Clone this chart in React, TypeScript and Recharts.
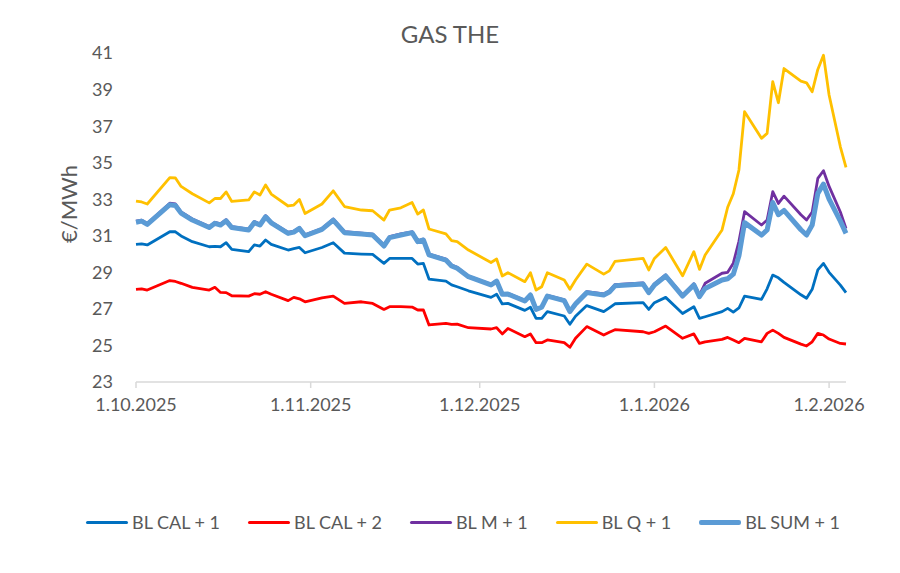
import { LineChart, Line, XAxis, YAxis } from "recharts";

// trading dates (only the dates where the curves turn are kept)
const dates = [
  "2025-10-01", "2025-10-02", "2025-10-03", "2025-10-07", "2025-10-08", "2025-10-09", "2025-10-11",
  "2025-10-14", "2025-10-15", "2025-10-16", "2025-10-17", "2025-10-18", "2025-10-21", "2025-10-22",
  "2025-10-23", "2025-10-24", "2025-10-25", "2025-10-28", "2025-10-29", "2025-10-30", "2025-10-31",
  "2025-11-03", "2025-11-05", "2025-11-07", "2025-11-10", "2025-11-12", "2025-11-14", "2025-11-15",
  "2025-11-17", "2025-11-19", "2025-11-20", "2025-11-21", "2025-11-22", "2025-11-25", "2025-11-26",
  "2025-11-27", "2025-11-29",
  "2025-12-03", "2025-12-04", "2025-12-05", "2025-12-06", "2025-12-09", "2025-12-10", "2025-12-11",
  "2025-12-12", "2025-12-13", "2025-12-16", "2025-12-17", "2025-12-18", "2025-12-20", "2025-12-23",
  "2025-12-24", "2025-12-25", "2025-12-30", "2025-12-31",
  "2026-01-01", "2026-01-03", "2026-01-06", "2026-01-08", "2026-01-09", "2026-01-10", "2026-01-13",
  "2026-01-14", "2026-01-15", "2026-01-16", "2026-01-17", "2026-01-20", "2026-01-21", "2026-01-22",
  "2026-01-23", "2026-01-24", "2026-01-27", "2026-01-28", "2026-01-29", "2026-01-30", "2026-01-31",
  "2026-02-01", "2026-02-03", "2026-02-04",
];

const blCal1 = [
  30.53, 30.56, 30.5, 31.22, 31.22, 30.99, 30.68, 30.4, 30.42, 30.4, 30.62, 30.26, 30.13, 30.5, 30.44, 30.77, 30.53, 30.22, 30.3, 30.36, 30.07,
  30.36, 30.62, 30.05, 30.0, 29.98, 29.49, 29.76, 29.76, 29.76, 29.45, 29.49, 28.63, 28.52, 28.31, 28.21, 27.99,
  27.63, 27.8, 27.27, 27.3, 26.92, 27.09, 26.48, 26.48, 26.85, 26.61, 26.16, 26.6, 27.18, 26.85, 27.06, 27.28, 27.34, 26.97,
  27.34, 27.63, 26.75, 27.12, 26.48, 26.57, 26.85, 27.03, 26.82, 27.05, 27.7, 27.52, 28.1, 28.85, 28.7, 28.45, 27.77, 27.58, 28.07, 29.13, 29.49,
  29.0, 28.3, 27.89,
];

const blCal2 = [
  28.07, 28.1, 28.03, 28.55, 28.5, 28.4, 28.18, 28.03, 28.18, 27.9, 27.89, 27.72, 27.7, 27.83, 27.8, 27.94, 27.8, 27.45, 27.63, 27.55, 27.39,
  27.6, 27.7, 27.3, 27.39, 27.3, 26.97, 27.12, 27.12, 27.1, 26.94, 26.94, 26.12, 26.21, 26.15, 26.17, 25.97,
  25.9, 25.97, 25.63, 25.93, 25.48, 25.63, 25.15, 25.15, 25.3, 25.15, 24.9, 25.39, 26.03, 25.57, 25.72, 25.86, 25.75, 25.66,
  25.75, 26.06, 25.39, 25.63, 25.11, 25.2, 25.33, 25.44, 25.3, 25.15, 25.39, 25.2, 25.66, 25.84, 25.66, 25.44, 25.07, 24.97, 25.2, 25.66, 25.57,
  25.35, 25.11, 25.08,
];

const blM1 = [
  31.8, 31.85, 31.67, 32.78, 32.74, 32.3, 31.92, 31.5, 31.74, 31.65, 31.88, 31.5, 31.37, 31.78, 31.64, 32.1, 31.76, 31.18, 31.25, 31.45, 31.05,
  31.4, 31.92, 31.22, 31.15, 31.09, 30.5, 30.95, 31.1, 31.22, 30.72, 30.82, 30.0, 29.72, 29.4, 29.27, 28.8,
  28.35, 28.56, 27.84, 27.85, 27.47, 27.8, 27.0, 27.12, 27.74, 27.5, 26.9, 27.32, 27.94, 27.82, 27.98, 28.32, 28.42, 27.95,
  28.37, 28.86, 27.76, 28.38, 27.75, 28.4, 28.95, 29.0, 29.5, 30.7, 32.32, 31.59, 31.86, 33.41, 32.77, 33.17, 32.15, 31.86, 32.3, 34.14, 34.56,
  33.7, 32.3, 31.4,
];

const blQ1 = [
  32.9, 32.85, 32.74, 34.18, 34.16, 33.7, 33.3, 32.8, 33.04, 33.04, 33.4, 32.88, 32.96, 33.4, 33.23, 33.78, 33.28, 32.63, 32.68, 32.99, 32.22,
  32.74, 33.46, 32.6, 32.41, 32.37, 31.86, 32.41, 32.53, 32.82, 32.19, 32.41, 31.37, 31.1, 30.73, 30.68, 30.22,
  29.54, 29.73, 28.8, 28.98, 28.49, 28.98, 28.03, 28.21, 28.98, 28.58, 28.07, 28.58, 29.45, 28.9, 29.08, 29.6, 29.76, 29.13,
  29.76, 30.36, 28.81, 30.13, 29.16, 29.95, 31.32, 32.56, 33.3, 34.6, 37.79, 36.33, 36.6, 39.43, 38.28, 40.15, 39.46, 39.37, 38.88, 40.1, 40.88,
  38.7, 35.87, 34.74,
];

const blSum1 = [
  31.74, 31.8, 31.62, 32.7, 32.66, 32.24, 31.86, 31.45, 31.68, 31.59, 31.82, 31.45, 31.32, 31.72, 31.59, 32.04, 31.71, 31.13, 31.2, 31.4, 31.0,
  31.35, 31.86, 31.17, 31.1, 31.04, 30.44, 30.9, 31.04, 31.17, 30.68, 30.77, 29.95, 29.67, 29.35, 29.22, 28.76,
  28.31, 28.52, 27.8, 27.81, 27.43, 27.76, 26.97, 27.09, 27.7, 27.45, 26.85, 27.27, 27.89, 27.76, 27.92, 28.26, 28.36, 27.89,
  28.31, 28.8, 27.7, 28.31, 27.67, 28.12, 28.58, 28.65, 28.9, 29.9, 31.72, 31.04, 31.32, 32.82, 32.15, 32.39, 31.33, 31.04, 31.59, 33.32, 33.83,
  33.0, 31.8, 31.13,
];

const monthTicks = ["2025-10-01", "2025-11-01", "2025-12-01", "2026-01-01", "2026-02-01"];
const yTicks = [23, 25, 27, 29, 31, 33, 35, 37, 39, 41];

const DAY = 86400000;
const START = Date.parse(dates[0]);
const toDay = (iso: string) => Math.round((Date.parse(iso) - START) / DAY);
const fmtDay = (d: number) => {
  const dt = new Date(START + d * DAY);
  return `${dt.getUTCDate()}.${dt.getUTCMonth() + 1}.${dt.getUTCFullYear()}`;
};

const series = [
  { key: "cal1", name: "BL CAL + 1", color: "#0070C0", width: 2.8, values: blCal1 },
  { key: "cal2", name: "BL CAL + 2", color: "#FF0000", width: 2.8, values: blCal2 },
  { key: "m1", name: "BL M + 1", color: "#7030A0", width: 2.8, values: blM1 },
  { key: "q1", name: "BL Q + 1", color: "#FFC000", width: 2.8, values: blQ1 },
  { key: "sum1", name: "BL SUM + 1", color: "#5B9BD5", width: 5, values: blSum1 },
];

const data = dates.map((d, i) => {
  const row: Record<string, number> = { day: toDay(d) };
  for (const s of series) row[s.key] = s.values[i];
  return row;
});

const FONT = "Lato, 'Noto Sans', sans-serif";
const GREY = "#595959";

function ChartLegend() {
  return (
    <div
      style={{
        position: "absolute", top: 511, left: 0, width: 900, display: "flex", justifyContent: "center",
        gap: 28, paddingLeft: 26, boxSizing: "border-box", fontFamily: FONT, fontSize: 18, color: GREY,
      }}
    >
      {series.map((s) => (
        <div key={s.key} style={{ display: "flex", alignItems: "center", gap: 4 }}>
          <div style={{ width: 42, height: s.width > 3 ? 5 : 3, background: s.color, borderRadius: 2 }} />
          <span>{s.name}</span>
        </div>
      ))}
    </div>
  );
}

export default function App() {
  return (
    <div style={{ position: "relative", width: 900, height: 573, background: "#fff" }}>
      <style>{"body{margin:0}"}</style>
      <div style={{ position: "absolute", top: 19, left: 0, width: 900, textAlign: "center", fontFamily: FONT, fontSize: 24, color: GREY }}>
        GAS THE
      </div>
      <div
        style={{
          position: "absolute", left: 68, top: 204, transform: "translate(-50%, -50%) rotate(-90deg)",
          fontFamily: FONT, fontSize: 22, color: GREY, whiteSpace: "nowrap",
        }}
      >
        €/MWh
      </div>
      <LineChart width={900} height={573} data={data} margin={{ top: 53, right: 54, left: 0, bottom: 151 }}>
        <XAxis
          dataKey="day"
          type="number"
          domain={[0, 126]}
          ticks={monthTicks.map(toDay)}
          tickFormatter={fmtDay}
          axisLine={{ stroke: "#d9d9d9", strokeWidth: 1.5 }}
          tickLine={{ stroke: "#d9d9d9", strokeWidth: 1.5 }}
          tickSize={6}
          tickMargin={10}
          height={40}
          tick={{ fill: GREY, fontSize: 18, fontFamily: FONT }}
        />
        <YAxis
          domain={[23, 41]}
          ticks={yTicks}
          axisLine={false}
          tickLine={false}
          tickSize={0}
          tickMargin={23}
          width={136}
          tick={{ fill: GREY, fontSize: 18, fontFamily: FONT }}
        />
        {series.map((s) => (
          <Line
            key={s.key}
            dataKey={s.key}
            name={s.name}
            type="linear"
            stroke={s.color}
            strokeWidth={s.width}
            strokeLinejoin="round"
            dot={false}
            activeDot={false}
            isAnimationActive={false}
          />
        ))}
      </LineChart>
      <ChartLegend />
    </div>
  );
}
